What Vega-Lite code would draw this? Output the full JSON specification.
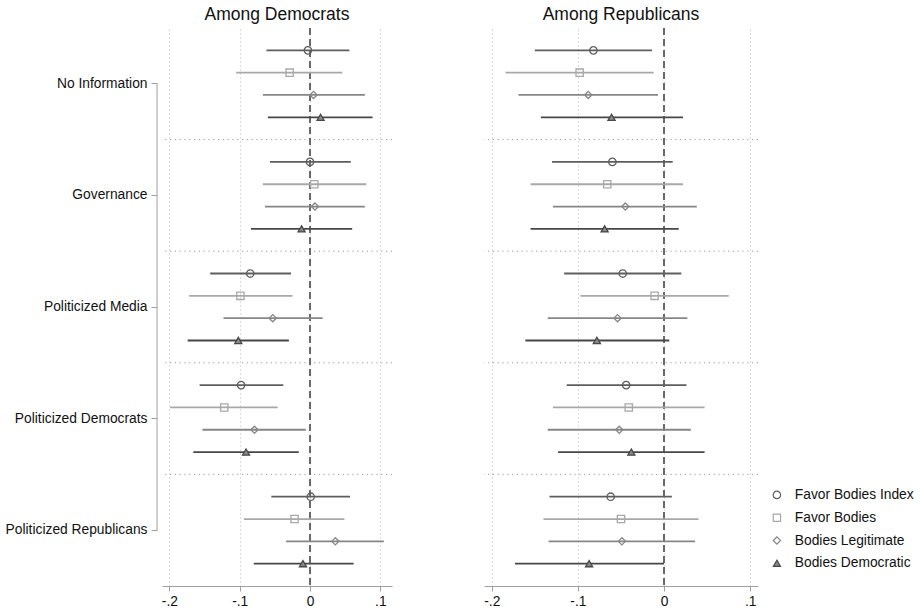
{
  "$schema": "https://vega.github.io/schema/vega-lite/v6.json",
  "padding": 5,
  "background": "white",
  "config": {
    "font": "Liberation Sans",
    "view": {"stroke": null},
    "title": {"fontSize": 17.5, "fontWeight": "normal", "color": "#111111", "offset": 4, "anchor": "middle", "font": "Liberation Sans"},
    "axis": {"labelFont": "Liberation Sans", "labelFontSize": 13.8, "labelColor": "#111111", "tickColor": "#a0a0a0", "domainColor": "#a0a0a0"},
    "legend": {"labelFont": "Liberation Sans", "labelFontSize": 13.8, "labelColor": "#111111", "symbolSize": 40, "symbolStrokeWidth": 1.2, "rowPadding": 7.8, "labelOffset": 11, "padding": 0}
  },
  "datasets": {
    "est": [
      {"party": "Democrats", "treatment": "No Information", "outcome": "Favor Bodies Index", "est": -0.003, "lo": -0.062, "hi": 0.056},
      {"party": "Democrats", "treatment": "No Information", "outcome": "Favor Bodies", "est": -0.029, "lo": -0.105, "hi": 0.046},
      {"party": "Democrats", "treatment": "No Information", "outcome": "Bodies Legitimate", "est": 0.005, "lo": -0.067, "hi": 0.078},
      {"party": "Democrats", "treatment": "No Information", "outcome": "Bodies Democratic", "est": 0.015, "lo": -0.060, "hi": 0.089},
      {"party": "Democrats", "treatment": "Governance", "outcome": "Favor Bodies Index", "est": 0.000, "lo": -0.057, "hi": 0.058},
      {"party": "Democrats", "treatment": "Governance", "outcome": "Favor Bodies", "est": 0.006, "lo": -0.067, "hi": 0.080},
      {"party": "Democrats", "treatment": "Governance", "outcome": "Bodies Legitimate", "est": 0.007, "lo": -0.064, "hi": 0.078},
      {"party": "Democrats", "treatment": "Governance", "outcome": "Bodies Democratic", "est": -0.012, "lo": -0.084, "hi": 0.060},
      {"party": "Democrats", "treatment": "Politicized Media", "outcome": "Favor Bodies Index", "est": -0.085, "lo": -0.142, "hi": -0.027},
      {"party": "Democrats", "treatment": "Politicized Media", "outcome": "Favor Bodies", "est": -0.099, "lo": -0.172, "hi": -0.025},
      {"party": "Democrats", "treatment": "Politicized Media", "outcome": "Bodies Legitimate", "est": -0.053, "lo": -0.123, "hi": 0.018},
      {"party": "Democrats", "treatment": "Politicized Media", "outcome": "Bodies Democratic", "est": -0.102, "lo": -0.174, "hi": -0.030},
      {"party": "Democrats", "treatment": "Politicized Democrats", "outcome": "Favor Bodies Index", "est": -0.098, "lo": -0.157, "hi": -0.038},
      {"party": "Democrats", "treatment": "Politicized Democrats", "outcome": "Favor Bodies", "est": -0.122, "lo": -0.199, "hi": -0.046},
      {"party": "Democrats", "treatment": "Politicized Democrats", "outcome": "Bodies Legitimate", "est": -0.079, "lo": -0.153, "hi": -0.006},
      {"party": "Democrats", "treatment": "Politicized Democrats", "outcome": "Bodies Democratic", "est": -0.091, "lo": -0.166, "hi": -0.016},
      {"party": "Democrats", "treatment": "Politicized Republicans", "outcome": "Favor Bodies Index", "est": 0.001, "lo": -0.055, "hi": 0.057},
      {"party": "Democrats", "treatment": "Politicized Republicans", "outcome": "Favor Bodies", "est": -0.022, "lo": -0.094, "hi": 0.049},
      {"party": "Democrats", "treatment": "Politicized Republicans", "outcome": "Bodies Legitimate", "est": 0.036, "lo": -0.034, "hi": 0.105},
      {"party": "Democrats", "treatment": "Politicized Republicans", "outcome": "Bodies Democratic", "est": -0.010, "lo": -0.080, "hi": 0.062},
      {"party": "Republicans", "treatment": "No Information", "outcome": "Favor Bodies Index", "est": -0.082, "lo": -0.150, "hi": -0.014},
      {"party": "Republicans", "treatment": "No Information", "outcome": "Favor Bodies", "est": -0.098, "lo": -0.184, "hi": -0.012},
      {"party": "Republicans", "treatment": "No Information", "outcome": "Bodies Legitimate", "est": -0.088, "lo": -0.169, "hi": -0.007},
      {"party": "Republicans", "treatment": "No Information", "outcome": "Bodies Democratic", "est": -0.061, "lo": -0.143, "hi": 0.022},
      {"party": "Republicans", "treatment": "Governance", "outcome": "Favor Bodies Index", "est": -0.060, "lo": -0.130, "hi": 0.010},
      {"party": "Republicans", "treatment": "Governance", "outcome": "Favor Bodies", "est": -0.066, "lo": -0.155, "hi": 0.022},
      {"party": "Republicans", "treatment": "Governance", "outcome": "Bodies Legitimate", "est": -0.045, "lo": -0.129, "hi": 0.038},
      {"party": "Republicans", "treatment": "Governance", "outcome": "Bodies Democratic", "est": -0.069, "lo": -0.155, "hi": 0.017},
      {"party": "Republicans", "treatment": "Politicized Media", "outcome": "Favor Bodies Index", "est": -0.048, "lo": -0.116, "hi": 0.020},
      {"party": "Republicans", "treatment": "Politicized Media", "outcome": "Favor Bodies", "est": -0.011, "lo": -0.097, "hi": 0.075},
      {"party": "Republicans", "treatment": "Politicized Media", "outcome": "Bodies Legitimate", "est": -0.054, "lo": -0.135, "hi": 0.027},
      {"party": "Republicans", "treatment": "Politicized Media", "outcome": "Bodies Democratic", "est": -0.078, "lo": -0.161, "hi": 0.006},
      {"party": "Republicans", "treatment": "Politicized Democrats", "outcome": "Favor Bodies Index", "est": -0.044, "lo": -0.113, "hi": 0.026},
      {"party": "Republicans", "treatment": "Politicized Democrats", "outcome": "Favor Bodies", "est": -0.041, "lo": -0.129, "hi": 0.047},
      {"party": "Republicans", "treatment": "Politicized Democrats", "outcome": "Bodies Legitimate", "est": -0.052, "lo": -0.135, "hi": 0.031},
      {"party": "Republicans", "treatment": "Politicized Democrats", "outcome": "Bodies Democratic", "est": -0.038, "lo": -0.123, "hi": 0.047},
      {"party": "Republicans", "treatment": "Politicized Republicans", "outcome": "Favor Bodies Index", "est": -0.062, "lo": -0.133, "hi": 0.009},
      {"party": "Republicans", "treatment": "Politicized Republicans", "outcome": "Favor Bodies", "est": -0.050, "lo": -0.140, "hi": 0.040},
      {"party": "Republicans", "treatment": "Politicized Republicans", "outcome": "Bodies Legitimate", "est": -0.049, "lo": -0.134, "hi": 0.036},
      {"party": "Republicans", "treatment": "Politicized Republicans", "outcome": "Bodies Democratic", "est": -0.087, "lo": -0.173, "hi": 0.000}
    ],
    "seps": [
      {"treatment": "Governance"},
      {"treatment": "Politicized Media"},
      {"treatment": "Politicized Democrats"},
      {"treatment": "Politicized Republicans"}
    ],
    "yaxis": [{"a": "No Information", "b": "Politicized Republicans"}]
  },
  "spacing": 90,
  "resolve": {"scale": {"x": "independent", "y": "independent", "yOffset": "independent", "stroke": "shared", "shape": "shared", "fill": "shared", "size": "shared"}},
  "hconcat": [
    {
      "width": 230,
      "height": 558,
      "title": "Among Democrats",
      "layer": [
        {
          "data": {"name": "seps"},
          "mark": {"type": "rule", "stroke": "#9a9a9a", "strokeDash": [1.2, 3.6], "strokeWidth": 1},
          "encoding": {
            "y": {"field": "treatment", "type": "nominal", "bandPosition": 0, "scale": {"domain": ["No Information", "Governance", "Politicized Media", "Politicized Democrats", "Politicized Republicans"], "paddingInner": 0, "paddingOuter": 0}}
          }
        },
        {
          "data": {"name": "est"},
          "transform": [{"filter": "datum.party == 'Democrats'"}],
          "layer": [
            {
              "mark": {"type": "rule", "strokeDash": [7, 4], "stroke": "#6a6a6a", "strokeWidth": 1.3},
              "encoding": {
                "x": {"datum": 0, "type": "quantitative", "scale": {"domain": [-0.2105, 0.1166], "nice": false, "zero": false}}
              }
            },
            {
              "mark": {"type": "rule", "strokeWidth": 1.8},
              "encoding": {
                "x": {"field": "lo", "type": "quantitative", "scale": {"domain": [-0.2105, 0.1166], "nice": false, "zero": false},
                  "axis": {"title": null, "values": [-0.2, -0.1, 0, 0.1], "grid": true, "gridDash": [1, 3], "gridColor": "#b8b8b8", "domain": true, "tickSize": 5, "labelPadding": 3,
                    "labelExpr": "datum.value == 0 ? '0' : (datum.value < 0 ? '-.' : '.') + round(abs(datum.value) * 10)"}},
                "x2": {"field": "hi"},
                "y": {"field": "treatment", "type": "nominal", "scale": {"domain": ["No Information", "Governance", "Politicized Media", "Politicized Democrats", "Politicized Republicans"], "paddingInner": 0, "paddingOuter": 0},
                  "axis": {"title": null, "domain": false, "ticks": true, "tickSize": 6, "offset": 5, "labelPadding": 4, "grid": false}},
                "yOffset": {"field": "outcome", "type": "nominal", "scale": {"domain": ["Favor Bodies Index", "Favor Bodies", "Bodies Legitimate", "Bodies Democratic"], "paddingInner": 0, "paddingOuter": 0.5}},
                "stroke": {"field": "outcome", "type": "nominal", "scale": {"domain": ["Favor Bodies Index", "Favor Bodies", "Bodies Legitimate", "Bodies Democratic"], "range": ["#5e5e5e", "#a8a8a8", "#868686", "#474747"]},
                  "legend": {"title": null, "orient": "none", "legendX": 608, "legendY": 460}}
              }
            },
            {
              "mark": {"type": "point", "strokeWidth": 1.3, "opacity": 1},
              "encoding": {
                "x": {"field": "est", "type": "quantitative", "scale": {"domain": [-0.2105, 0.1166], "nice": false, "zero": false}},
                "y": {"field": "treatment", "type": "nominal", "scale": {"domain": ["No Information", "Governance", "Politicized Media", "Politicized Democrats", "Politicized Republicans"], "paddingInner": 0, "paddingOuter": 0}},
                "yOffset": {"field": "outcome", "type": "nominal", "scale": {"domain": ["Favor Bodies Index", "Favor Bodies", "Bodies Legitimate", "Bodies Democratic"], "paddingInner": 0, "paddingOuter": 0.5}},
                "size": {"field": "outcome", "type": "nominal", "scale": {"domain": ["Favor Bodies Index", "Favor Bodies", "Bodies Legitimate", "Bodies Democratic"], "range": [55, 50, 80, 55]}, "legend": null},
                "shape": {"field": "outcome", "type": "nominal", "scale": {"domain": ["Favor Bodies Index", "Favor Bodies", "Bodies Legitimate", "Bodies Democratic"], "range": ["circle", "square", "diamond", "triangle-up"]},
                  "legend": {"title": null, "orient": "none", "legendX": 608, "legendY": 460}},
                "stroke": {"field": "outcome", "type": "nominal", "scale": {"domain": ["Favor Bodies Index", "Favor Bodies", "Bodies Legitimate", "Bodies Democratic"], "range": ["#5e5e5e", "#a8a8a8", "#868686", "#474747"]},
                  "legend": {"title": null, "orient": "none", "legendX": 608, "legendY": 460}},
                "fill": {"field": "outcome", "type": "nominal", "scale": {"domain": ["Favor Bodies Index", "Favor Bodies", "Bodies Legitimate", "Bodies Democratic"], "range": ["transparent", "transparent", "transparent", "#8a8a8a"]},
                  "legend": {"title": null, "orient": "none", "legendX": 608, "legendY": 460}}
              }
            }
          ]
        },
        {
          "data": {"name": "yaxis"},
          "mark": {"type": "rule", "stroke": "#a0a0a0", "strokeWidth": 1, "xOffset": -5},
          "encoding": {
            "x": {"datum": -0.2105, "type": "quantitative", "scale": {"domain": [-0.2105, 0.1166], "nice": false, "zero": false}},
            "y": {"field": "a", "type": "nominal", "scale": {"domain": ["No Information", "Governance", "Politicized Media", "Politicized Democrats", "Politicized Republicans"], "paddingInner": 0, "paddingOuter": 0}},
            "y2": {"field": "b"}
          }
        }
      ]
    },
    {
      "width": 274,
      "height": 558,
      "title": "Among Republicans",
      "layer": [
        {
          "data": {"name": "seps"},
          "mark": {"type": "rule", "stroke": "#9a9a9a", "strokeDash": [1.2, 3.6], "strokeWidth": 1},
          "encoding": {
            "y": {"field": "treatment", "type": "nominal", "bandPosition": 0, "axis": null, "scale": {"domain": ["No Information", "Governance", "Politicized Media", "Politicized Democrats", "Politicized Republicans"], "paddingInner": 0, "paddingOuter": 0}}
          }
        },
        {
          "data": {"name": "est"},
          "transform": [{"filter": "datum.party == 'Republicans'"}],
          "layer": [
            {
              "mark": {"type": "rule", "strokeDash": [7, 4], "stroke": "#6a6a6a", "strokeWidth": 1.3},
              "encoding": {
                "x": {"datum": 0, "type": "quantitative", "scale": {"domain": [-0.209, 0.109], "nice": false, "zero": false}}
              }
            },
            {
              "mark": {"type": "rule", "strokeWidth": 1.8},
              "encoding": {
                "x": {"field": "lo", "type": "quantitative", "scale": {"domain": [-0.209, 0.109], "nice": false, "zero": false},
                  "axis": {"title": null, "values": [-0.2, -0.1, 0, 0.1], "grid": true, "gridDash": [1, 3], "gridColor": "#b8b8b8", "domain": true, "tickSize": 5, "labelPadding": 3,
                    "labelExpr": "datum.value == 0 ? '0' : (datum.value < 0 ? '-.' : '.') + round(abs(datum.value) * 10)"}},
                "x2": {"field": "hi"},
                "y": {"field": "treatment", "type": "nominal", "axis": null, "scale": {"domain": ["No Information", "Governance", "Politicized Media", "Politicized Democrats", "Politicized Republicans"], "paddingInner": 0, "paddingOuter": 0}},
                "yOffset": {"field": "outcome", "type": "nominal", "scale": {"domain": ["Favor Bodies Index", "Favor Bodies", "Bodies Legitimate", "Bodies Democratic"], "paddingInner": 0, "paddingOuter": 0.5}},
                "stroke": {"field": "outcome", "type": "nominal", "scale": {"domain": ["Favor Bodies Index", "Favor Bodies", "Bodies Legitimate", "Bodies Democratic"], "range": ["#5e5e5e", "#a8a8a8", "#868686", "#474747"]},
                  "legend": {"title": null, "orient": "none", "legendX": 608, "legendY": 460}}
              }
            },
            {
              "mark": {"type": "point", "strokeWidth": 1.3, "opacity": 1},
              "encoding": {
                "x": {"field": "est", "type": "quantitative", "scale": {"domain": [-0.209, 0.109], "nice": false, "zero": false}},
                "y": {"field": "treatment", "type": "nominal", "axis": null, "scale": {"domain": ["No Information", "Governance", "Politicized Media", "Politicized Democrats", "Politicized Republicans"], "paddingInner": 0, "paddingOuter": 0}},
                "yOffset": {"field": "outcome", "type": "nominal", "scale": {"domain": ["Favor Bodies Index", "Favor Bodies", "Bodies Legitimate", "Bodies Democratic"], "paddingInner": 0, "paddingOuter": 0.5}},
                "size": {"field": "outcome", "type": "nominal", "scale": {"domain": ["Favor Bodies Index", "Favor Bodies", "Bodies Legitimate", "Bodies Democratic"], "range": [55, 50, 80, 55]}, "legend": null},
                "shape": {"field": "outcome", "type": "nominal", "scale": {"domain": ["Favor Bodies Index", "Favor Bodies", "Bodies Legitimate", "Bodies Democratic"], "range": ["circle", "square", "diamond", "triangle-up"]},
                  "legend": {"title": null, "orient": "none", "legendX": 608, "legendY": 460}},
                "stroke": {"field": "outcome", "type": "nominal", "scale": {"domain": ["Favor Bodies Index", "Favor Bodies", "Bodies Legitimate", "Bodies Democratic"], "range": ["#5e5e5e", "#a8a8a8", "#868686", "#474747"]},
                  "legend": {"title": null, "orient": "none", "legendX": 608, "legendY": 460}},
                "fill": {"field": "outcome", "type": "nominal", "scale": {"domain": ["Favor Bodies Index", "Favor Bodies", "Bodies Legitimate", "Bodies Democratic"], "range": ["transparent", "transparent", "transparent", "#8a8a8a"]},
                  "legend": {"title": null, "orient": "none", "legendX": 608, "legendY": 460}}
              }
            }
          ]
        }
      ]
    }
  ]
}
